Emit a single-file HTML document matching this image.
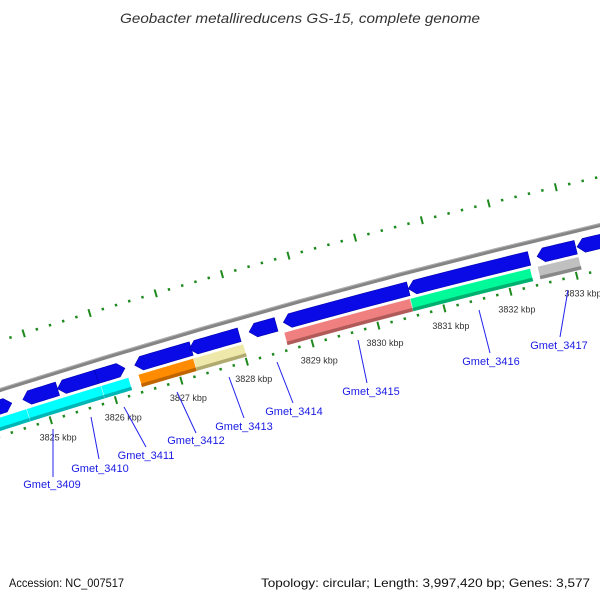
<!DOCTYPE html>
<html><head><meta charset="utf-8"><style>
body{margin:0;background:#fff}
svg{display:block;font-family:"Liberation Sans",sans-serif}
</style></head><body>
<svg id="map" width="600" height="600" viewBox="0 0 600 600">
<rect width="600" height="600" fill="#fff"/>
<text x="300" y="23" text-anchor="middle" font-style="italic" font-size="14" fill="#333" textLength="360" lengthAdjust="spacingAndGlyphs">Geobacter metallireducens GS-15, complete genome</text>
<text x="9" y="587" font-size="12" fill="#111" textLength="115" lengthAdjust="spacingAndGlyphs">Accession: NC_007517</text>
<text x="590" y="587" text-anchor="end" font-size="12" fill="#111" textLength="329" lengthAdjust="spacingAndGlyphs">Topology: circular; Length: 3,997,420 bp; Genes: 3,577</text>
<g id="layer"></g>
</svg>
<script>
// data (kbp)
const geneStarts = [3824.02,3824.70,3825.23,3825.83,3826.41,3827.24,3828.15,3828.67,3830.56,3832.50,3833.10];
const geneEnds   = [3824.53,3825.23,3825.83,3826.26,3827.27,3828.00,3828.56,3830.56,3832.38,3833.08,3833.70];
const geneDirs   = [1,-1,-1,1,-1,-1,-1,-1,-1,-1,-1];
const cogStarts = [3824.10,3824.71,3825.85,3826.42,3827.26,3828.64,3830.55,3832.47];
const cogEnds   = [3824.71,3825.85,3826.27,3827.26,3828.02,3830.55,3832.36,3833.09];
const cogColors = ['#00ffff','#00ffff','#00ffff','#ff8c00','#eee8aa','#f08080','#00fa9a','#c0c0c0'];
const cogDark   = ['#00b5b5','#00b5b5','#00b5b5','#c06400','#b0aa70','#b05a5a','#00b070','#888888'];
const tickLabels = [3825,3826,3827,3828,3829,3830,3831,3832,3833];
const geneNames = ['Gmet_3409','Gmet_3410','Gmet_3411','Gmet_3412','Gmet_3413','Gmet_3414','Gmet_3415','Gmet_3416','Gmet_3417'];
// label layout (pixel geometry, not data): line start, line end, text pos
const labelLayout = [[53,429,53,477,52,488],[91,417,99,459,100,472],[124,407,146,447,146,459],[177,392,196,433,196,444],[229,377,244,418,244,430],[277,362,293,403,294,415],[358,340,367,383,371,395],[479,310,490,353,491,365],[568,290,560,337,559,349]];

const NS='http://www.w3.org/2000/svg';
const layer=document.getElementById('layer');
const h=2373.5,k=7847.5,R=7826;
const s=68.2/(R-44);
const phi0=Math.atan2(345-k,313-h);
function phi(p){return phi0+(p-3829)*s;}
function pt(p,r){const a=phi(p);return [h+r*Math.cos(a),k+r*Math.sin(a)];}
function mk(tag,attrs){const e=document.createElementNS(NS,tag);for(const a in attrs)e.setAttribute(a,attrs[a]);layer.appendChild(e);return e;}
function arcPts(p1,p2,r){const out=[];for(let i=0;i<=8;i++){out.push(pt(p1+(p2-p1)*i/8,r));}return out;}
function band(p1,p2,r1,r2){const a=arcPts(p1,p2,r1),b=arcPts(p2,p1,r2);return a.concat(b).map(q=>q.join(',')).join(' ');}

// backbone
{const pts=arcPts(3823,3835,R).map(q=>q.join(',')).join(' ');
const bb=mk('polyline',{points:pts,fill:'none',stroke:'#858585','stroke-width':4});


const hl=mk('polyline',{points:arcPts(3823,3835,R+1.5).map(q=>q.join(',')).join(' '),fill:'none',stroke:'#b0b0b0','stroke-width':1});

}

// ticks
for(let i=0;i<=60;i++){
  const p=3823+i*0.2; const major=Math.abs(p-Math.round(p))<1e-6;
  [[R-44,'lower'],[R+47,'upper']].forEach(([r,ring])=>{
    const len=major?4:1.3;
    const a=pt(p,r-len),b=pt(p,r+len);
    const t=mk('line',{x1:a[0],y1:a[1],x2:b[0],y2:b[1],stroke:'#1e8a1e','stroke-width':major?2:2.4});
    
    
  });
}
tickLabels.forEach(v=>{
  const q=pt(v,R-62);
  const t=mk('text',{x:q[0]+2,y:q[1]+3,'text-anchor':'middle','font-size':9,fill:'#333'});
  t.textContent=v+' kbp';
  
  
});

// genes
const tip=7/R/s;
geneStarts.forEach((st,i)=>{
  const en=geneEnds[i],d=geneDirs[i],r1=R-9,r2=R-23,rm=(r1+r2)/2;
  let pts;
  if(d<0){const A=arcPts(st+tip,en,r1),B=arcPts(en,st+tip,r2);pts=A.concat(B,[pt(st,rm)]);}
  else{const A=arcPts(st,en-tip,r1),B=arcPts(en-tip,st,r2);pts=A.concat([pt(en,rm)],B);}
  const g=mk('polygon',{points:pts.map(q=>q.join(',')).join(' '),fill:'#0a0ae6',stroke:'#0000b0','stroke-width':0.6});
  
  
});
// COG band
cogStarts.forEach((st,i)=>{
  const en=cogEnds[i];
  const m=mk('polygon',{points:band(st,en,R-26,R-39),fill:cogColors[i],stroke:'#fff','stroke-width':0.4});
  
  
  const d=mk('polygon',{points:band(st,en,R-35.5,R-39),fill:cogDark[i]});
  
  
});
// gene labels
geneNames.forEach((n,i)=>{
  const L=labelLayout[i];
  const ln=mk('line',{x1:L[0],y1:L[1],x2:L[2],y2:L[3],stroke:'#2222ee','stroke-width':1});
  
  
  const t=mk('text',{x:L[4],y:L[5],'text-anchor':'middle','font-size':11,fill:'#1a1ae6'});
  t.textContent=n;
  
  
});
</script>
</body></html>
